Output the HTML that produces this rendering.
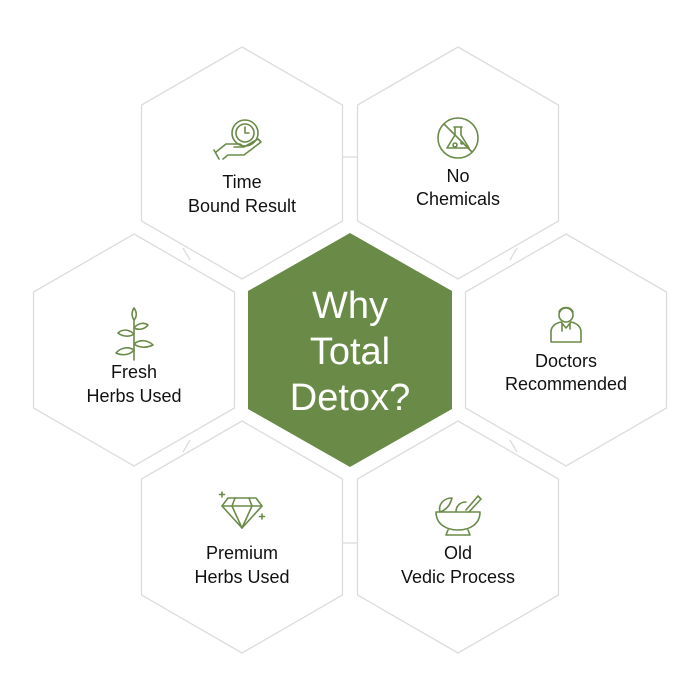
<!DOCTYPE html>
<html><head><style>
html,body{margin:0;padding:0;background:#fff;}
svg{display:block;}
text{font-family:"Liberation Sans",sans-serif;}
</style></head><body>
<svg width="700" height="700" viewBox="0 0 700 700" xmlns="http://www.w3.org/2000/svg">
<defs>
<polygon id="hx" points="0,-116 100.5,-58 100.5,58 0,116 -100.5,58 -100.5,-58"/>
</defs>
<g stroke="#dcdcdc" stroke-width="1.3" fill="none">
<line x1="343" y1="157" x2="357" y2="157"/>
<line x1="343" y1="543" x2="357" y2="543"/>
<line x1="183" y1="248" x2="190" y2="260"/>
<line x1="517" y1="248" x2="510" y2="260"/>
<line x1="183" y1="452" x2="190" y2="440"/>
<line x1="517" y1="452" x2="510" y2="440"/>
<use href="#hx" x="242" y="163"/>
<use href="#hx" x="458" y="163"/>
<use href="#hx" x="134" y="350"/>
<use href="#hx" x="566" y="350"/>
<use href="#hx" x="242" y="537"/>
<use href="#hx" x="458" y="537"/>
</g>
<polygon points="350,233 452,291 452,409 350,467 248,409 248,291" fill="#6a8b48"/>
<g fill="#fff" font-size="38" text-anchor="middle">
<text x="350" y="318">Why</text>
<text x="350" y="364">Total</text>
<text x="350" y="410">Detox?</text>
</g>
<g fill="#111" font-size="18" text-anchor="middle">
<text x="242" y="188">Time</text>
<text x="242" y="212">Bound Result</text>
<text x="458" y="182">No</text>
<text x="458" y="205">Chemicals</text>
<text x="134" y="378">Fresh</text>
<text x="134" y="402">Herbs Used</text>
<text x="566" y="367">Doctors</text>
<text x="566" y="390">Recommended</text>
<text x="242" y="559">Premium</text>
<text x="242" y="583">Herbs Used</text>
<text x="458" y="559">Old</text>
<text x="458" y="583">Vedic Process</text>
</g>
<g stroke="#6a8b48" stroke-width="1.6" fill="none" stroke-linecap="round" stroke-linejoin="round">
<!-- clock hand -->
<circle cx="245" cy="133" r="13"/><circle cx="245" cy="133" r="9"/>
<path d="M245 127v6h4"/>
<path d="M216 152l10-8h14l4 3h-10M244 147l14-8 3 3-17 13h-16l-5 4"/>
<path d="M214 150l5 9"/>
<!-- no chemicals -->
<circle cx="458" cy="138" r="20"/>
<path d="M444 124l28 28"/>
<path d="M454 127h8M455 127v8l-8 13h22l-8-13v-8"/>
<circle cx="455" cy="145" r="2"/><circle cx="462" cy="143" r="1"/>
<!-- herb -->
<path d="M134 360v-40"/>
<path d="M134 350c-6-4-14-2-18 3 6 3 14 2 18-3zM134 344c6-5 14-4 19 1-6 3-14 3-19-1zM134 334c-5-5-12-5-16-1 5 4 12 4 16 1zM134 328c4-5 10-6 14-3-4 5-10 5-14 3zM134 320c-3-4-2-9 0-12 3 4 3 9 0 12z"/>
<!-- doctor -->
<circle cx="566" cy="315" r="7"/>
<path d="M559 312c2-6 12-6 14 0"/>
<path d="M551 342v-10c0-6 5-9 10-10l5 6 5-6c5 1 10 4 10 10v10z"/>
<path d="M562 323v8M570 323v6"/>
<!-- diamond -->
<path d="M228 498h28l6 8-20 22-20-22z"/>
<path d="M222 506h40M235 498l-3 8 10 22 10-22-3-8"/>
<path d="M222 492v5M219.5 494.5h5M262 514v5M259.5 516.5h5"/>
<!-- mortar -->
<path d="M436 512h44c0 12-10 18-22 18s-22-6-22-18z"/>
<path d="M448 530l-2 5h24l-2-5"/>
<path d="M440 512c-2-8 4-14 12-14-2 8-6 12-12 14zM456 512c0-6 4-10 10-10"/>
<path d="M466 510l12-14 3 3-12 13"/>
</g>
</svg>
</body></html>
